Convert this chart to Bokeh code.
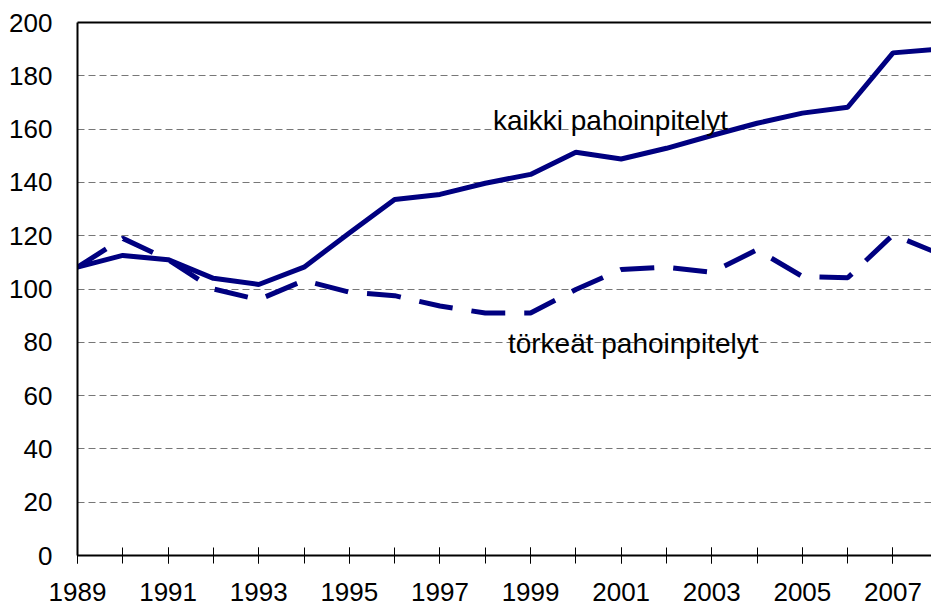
from bokeh.plotting import figure
from bokeh.models import Range1d, FixedTicker, LinearAxis, Label, ColumnDataSource
from bokeh.embed import file_html
from bokeh.resources import INLINE

years = list(range(1989, 2009))
kaikki = [108.2, 112.6, 111.0, 104.0, 101.7, 108.2, 121.0, 133.6, 135.5, 139.7,
          143.0, 151.3, 148.8, 152.8, 157.6, 162.2, 166.0, 168.2, 188.6, 190.0]
torkeat = [108.2, 119.0, 111.0, 100.0, 96.0, 103.2, 98.8, 97.5, 93.6, 91.0,
           91.0, 99.8, 107.3, 108.2, 106.3, 114.7, 104.7, 104.2, 120.3, 113.4]
x_tick_labels = list(range(1989, 2008, 2))
y_ticks = list(range(0, 201, 20))
label_kaikki = "kaikki pahoinpitelyt"
label_torkeat = "törkeät pahoinpitelyt"

FONT = "Liberation Sans"
NAVY = "#000080"

p = figure(width=931, height=610, output_backend="svg", toolbar_location=None,
           x_range=Range1d(1989, 2007.85), y_range=Range1d(0, 200),
           min_border_left=77, min_border_top=22, min_border_right=0, min_border_bottom=55)
p.outline_line_color = None
p.background_fill_color = "white"
p.border_fill_color = "white"

src = ColumnDataSource(dict(x=years, k=kaikki, t=torkeat))
p.line("x", "k", source=src, line_color=NAVY, line_width=5)
p.line("x", "t", source=src, line_color=NAVY, line_width=5, line_dash="34 19")

# x axis
xa = p.xaxis[0]
xa.ticker = FixedTicker(ticks=x_tick_labels, minor_ticks=years)
xa.axis_line_color = "black"
xa.axis_line_width = 2
xa.major_tick_in = 8
xa.major_tick_out = 8
xa.minor_tick_in = 8
xa.minor_tick_out = 8
xa.major_tick_line_color = "black"
xa.minor_tick_line_color = "black"
xa.major_label_text_font = FONT
xa.major_label_text_font_size = "26px"
xa.major_label_text_color = "black"
xa.major_label_standoff = 19

# y axis
ya = p.yaxis[0]
ya.ticker = FixedTicker(ticks=y_ticks)
ya.axis_line_color = "black"
ya.axis_line_width = 2
ya.major_tick_in = 0
ya.major_tick_out = 0
ya.minor_tick_line_color = None
ya.major_label_text_font = FONT
ya.major_label_text_font_size = "26px"
ya.major_label_text_color = "black"
ya.major_label_standoff = 25

# top border
top = LinearAxis(ticker=FixedTicker(ticks=[]), axis_line_color="black", axis_line_width=2,
                 major_label_text_font_size="0px", major_tick_line_color=None,
                 minor_tick_line_color=None)
p.add_layout(top, "above")

p.xgrid.grid_line_color = None
p.ygrid.ticker = FixedTicker(ticks=y_ticks[1:-1])
p.ygrid.grid_line_color = "#777777"
p.ygrid.grid_line_dash = "7 4"
p.ygrid.grid_line_width = 1

p.add_layout(Label(x=1998.17, y=163.2, text=label_kaikki, text_font=FONT,
                   text_font_size="28px", text_color="black", text_baseline="alphabetic"))
p.add_layout(Label(x=1998.5, y=79.5, text=label_torkeat, text_font=FONT,
                   text_font_size="28px", text_color="black", text_baseline="alphabetic"))

open("out.html", "w").write(file_html(p, INLINE))
